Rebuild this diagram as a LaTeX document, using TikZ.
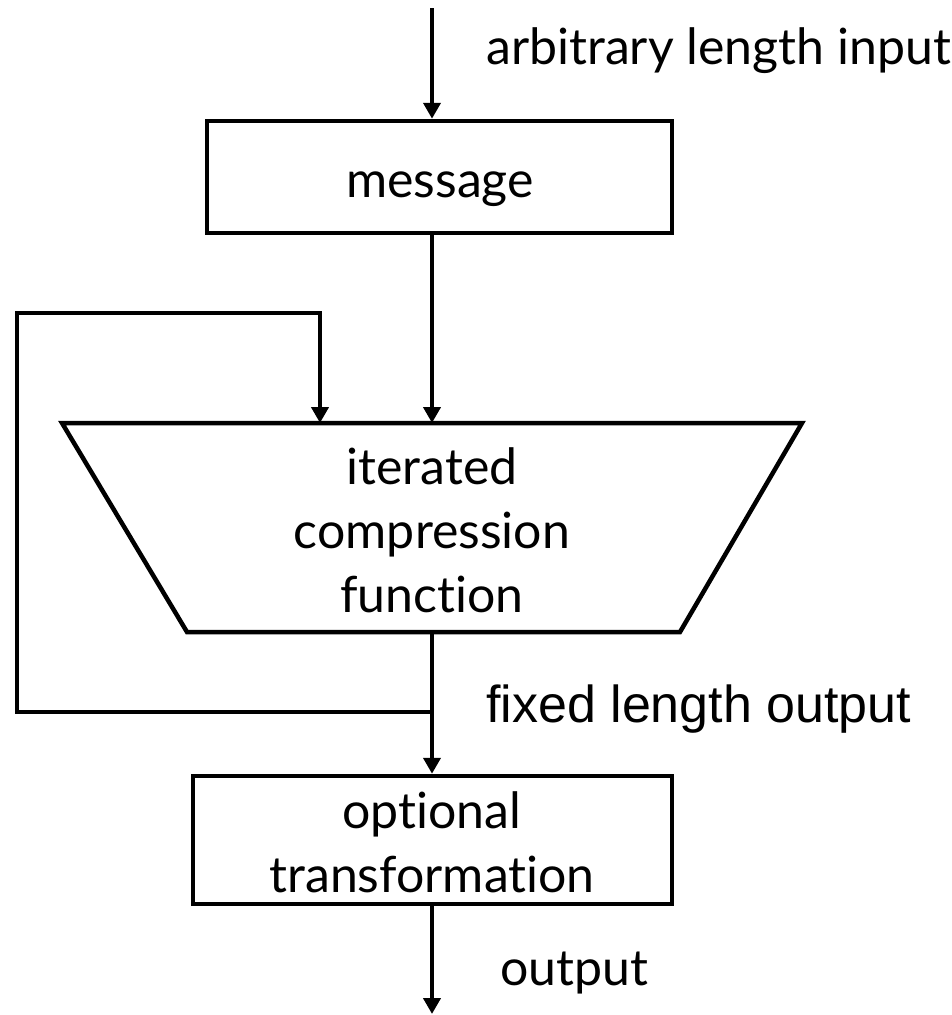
\documentclass[tikz,border=0pt]{standalone}
\usepackage{fontspec}
\setmainfont{Lato}[Ligatures=NoCommon]
\newfontfamily\arialfont{Liberation Sans}
\usetikzlibrary{arrows.meta}
\begin{document}
\begin{tikzpicture}[x=1pt, y=-1pt, line width=4.5pt,
  flow/.style={-{Triangle[width=17pt,length=16pt]}},
  boxnode/.style={draw, rectangle, inner sep=0pt},
  lbl/.style={font=\fontsize{50}{64}\selectfont, inner sep=0pt},
  sidelbl/.style={font=\arialfont\fontsize{52}{60}\selectfont, inner sep=0pt},
]
\useasboundingbox (0,0) rectangle (952,1015);

% boxes
\node[boxnode, minimum width=465pt, minimum height=112pt] (msg) at (439.5,177) {};
\node[boxnode, minimum width=479pt, minimum height=128pt] (opt) at (432.5,840) {};

% inverted trapezium for the compression function
\coordinate (icfTL) at (62,423);
\coordinate (icfTR) at (802,423);
\coordinate (icfBR) at (680,632);
\coordinate (icfBL) at (187,632);
\draw (icfTL) -- (icfTR) -- (icfBR) -- (icfBL) -- cycle;
\coordinate (icfIn) at (432,423);
\coordinate (fbIn) at (320,423);
\coordinate (icfOut) at (432,632);

% texts (multi-line nodes are placed by the baseline of their last line)
\node[lbl, anchor=base] (msgtext) at (440,197) {message};
\node[lbl, anchor=base, align=center] (icftext) at (432,612) {iterated\\compression\\function};
\node[lbl, anchor=base, align=center] (opttext) at (432,892) {optional\\transformation};
\node[lbl, anchor=base west] (inlbl) at (484,64) {arbitrary length input};
\node[lbl, anchor=base west] (outlbl) at (498,985) {output};
\node[sidelbl, anchor=base west] (fixlbl) at (484,722) {fixed length output};

% connectors
\coordinate (src) at (432,8);
\coordinate (sink) at (432,1014);
\coordinate (junc) at (432,712);
\coordinate (fbA) at (17,712);
\coordinate (fbB) at (17,313);

\draw[flow] (src) -- (src |- msg.north);
\draw[flow] (msg.south -| icfIn) -- (icfIn);
\draw[flow] (icfOut) -- (opt.north -| icfOut);
\draw[flow] (junc) -- (fbA) -- (fbB) -| (fbIn);
\draw[flow] (opt.south -| sink) -- (sink);
\end{tikzpicture}
\end{document}
